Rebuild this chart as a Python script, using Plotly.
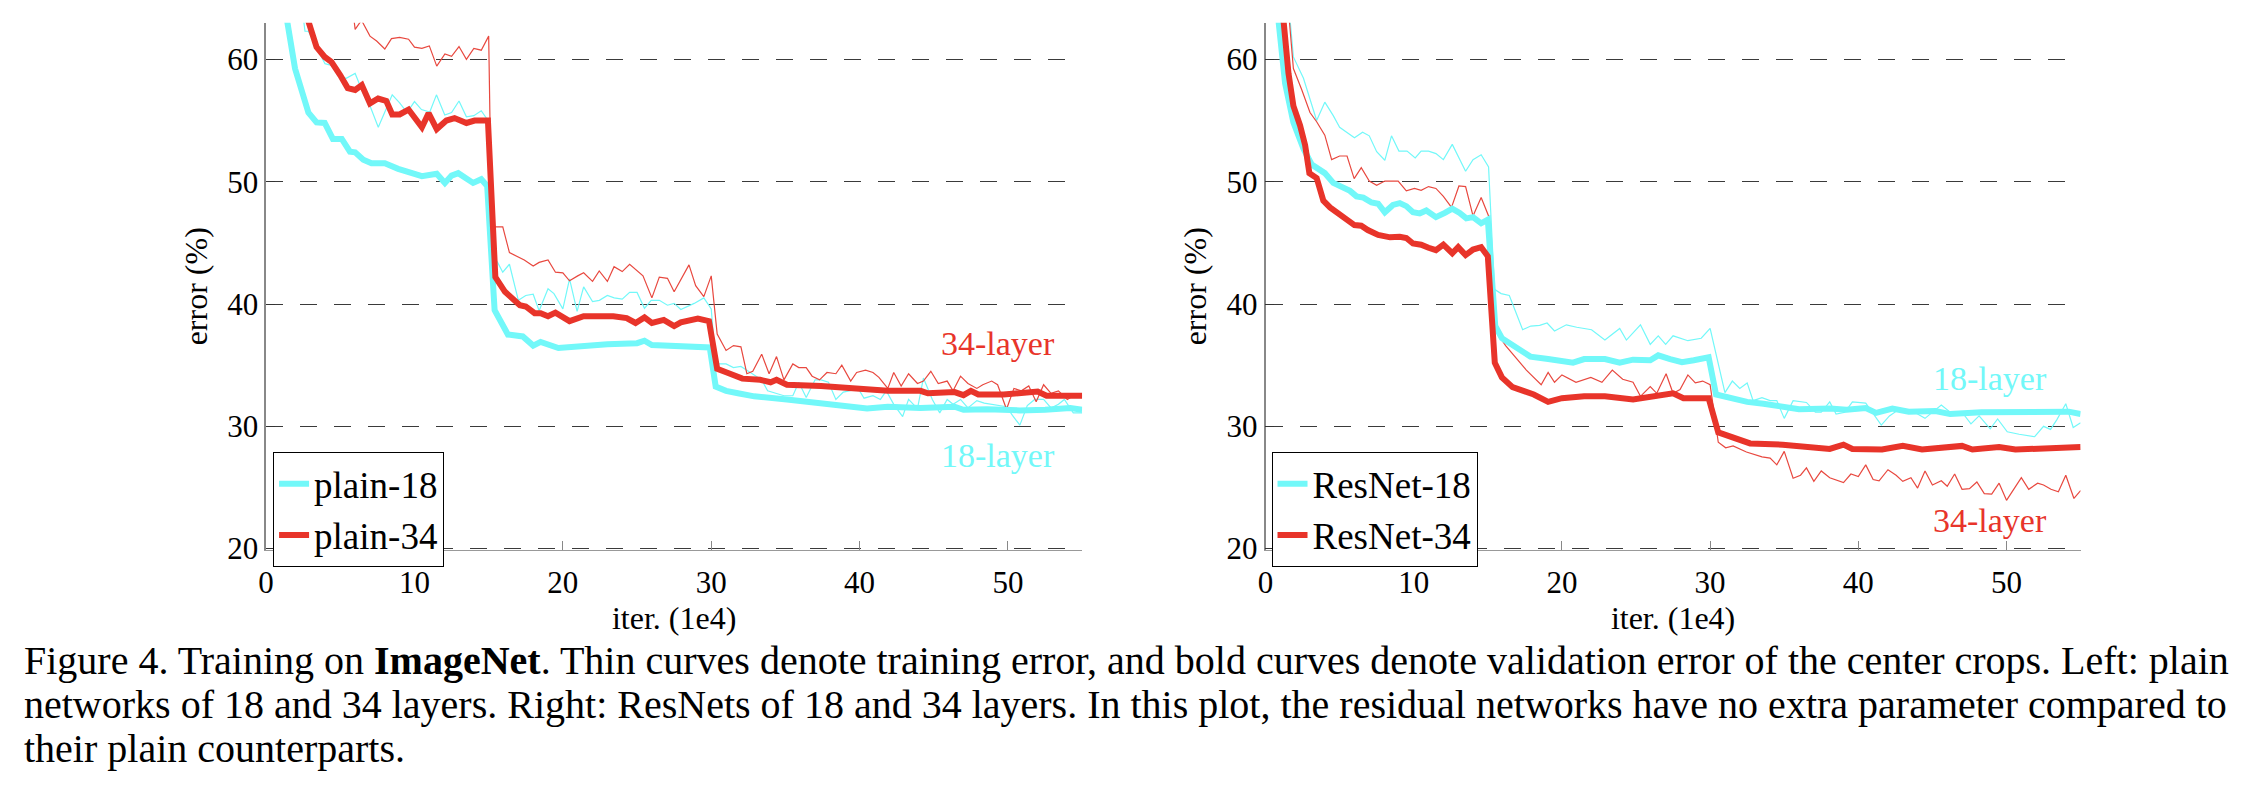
import plotly.graph_objects as go

# (iter in 1e4, error %)
plain18_train = [(2.5, 63.5), (2.62, 62.3), (2.85, 62.3), (3.4, 61.0), (3.97, 59.65), (4.4, 59.5), (4.98, 58.6),
                 (5.4, 58.45), (6.0, 58.85), (6.55, 57.2), (7.0, 56.2), (7.56, 54.45), (8.0, 55.7), (8.5, 57.1),
                 (9.0, 56.45), (9.5, 55.65), (10.0, 56.55), (10.47, 55.9), (11.03, 55.7), (11.48, 57.1),
                 (12.04, 55.45), (12.5, 55.65), (13.0, 56.6), (13.5, 55.3), (14.0, 55.4), (14.5, 55.8),
                 (14.95, 55.0), (15.3, 43.9), (15.6, 43.4), (15.95, 42.6), (16.4, 43.25), (17.0, 40.3),
                 (17.5, 40.7), (18.0, 40.8), (18.4, 39.45), (19.0, 41.25), (19.4, 40.85), (20.0, 39.6),
                 (20.45, 42.05), (20.96, 39.4), (21.4, 41.4), (22.0, 40.2), (22.46, 40.3), (23.0, 40.7),
                 (23.46, 40.5), (24.0, 40.4), (24.5, 40.95), (25.0, 40.95), (25.5, 39.65), (25.95, 40.3),
                 (26.5, 40.3), (27.05, 39.9), (27.5, 40.05), (27.95, 39.55), (28.85, 40.05), (29.5, 40.5),
                 (30.0, 39.6), (30.3, 35.1), (31.0, 35.1), (31.5, 34.8), (32.0, 34.9), (32.4, 34.6), (32.8, 34.3),
                 (33.4, 33.8), (33.8, 32.9), (34.4, 32.7), (34.9, 32.5), (35.5, 32.5), (35.9, 33.6), (36.4, 32.35),
                 (37.0, 33.8), (37.4, 33.8), (37.9, 33.6), (38.4, 32.2), (38.9, 32.8), (39.3, 32.9), (39.9, 33.1),
                 (40.3, 32.3), (40.9, 32.5), (41.4, 32.2), (41.8, 32.9), (42.3, 31.8), (42.9, 30.8), (43.3, 32.2),
                 (43.9, 31.45), (44.3, 33.95), (44.9, 32.2), (45.4, 31.1), (45.9, 32.2), (46.3, 31.8), (46.8, 32.2),
                 (47.3, 31.5), (47.9, 32.1), (48.4, 31.9), (48.9, 31.8), (49.4, 31.7), (49.9, 31.6), (50.3, 30.9),
                 (50.8, 30.1), (51.3, 31.7), (51.8, 32.2), (52.4, 32.2), (52.9, 31.5), (53.4, 31.8), (53.8, 32.2),
                 (54.4, 31.1), (55.0, 31.1)]

plain34_train = [(5.9, 63.5), (6.0, 62.45), (6.43, 63.2), (7.0, 61.9), (7.45, 61.5), (8.0, 60.85), (8.45, 61.7),
                 (9.0, 61.8), (9.6, 61.65), (10.0, 61.0), (10.5, 60.9), (11.0, 61.1), (11.5, 59.45), (12.05, 60.45),
                 (12.5, 60.25), (13.0, 61.05), (13.5, 60.0), (14.0, 60.9), (14.5, 60.75), (15.0, 61.9),
                 (15.2, 46.3), (15.95, 46.3), (16.4, 44.2), (17.4, 43.6), (18.0, 43.1), (18.4, 43.4), (19.0, 43.6),
                 (19.5, 42.6), (20.0, 42.55), (20.45, 41.9), (21.0, 42.3), (21.4, 42.55), (22.0, 41.85),
                 (22.45, 42.7), (23.0, 41.85), (23.45, 43.05), (24.0, 42.65), (24.5, 43.25), (25.4, 42.3),
                 (26.0, 40.5), (26.5, 42.2), (27.05, 42.1), (27.5, 41.0), (28.5, 43.2), (28.95, 41.5), (29.5, 40.6),
                 (30.0, 42.3), (30.4, 37.55), (31.0, 36.2), (31.5, 36.6), (32.0, 36.5), (32.4, 34.3), (32.8, 34.5),
                 (33.4, 35.9), (33.9, 34.3), (34.4, 35.7), (34.9, 33.8), (35.5, 35.1), (35.9, 34.8), (36.4, 34.8),
                 (36.8, 34.1), (37.3, 33.8), (37.8, 34.4), (38.4, 34.3), (38.8, 35.0), (39.4, 33.7), (39.8, 34.4),
                 (40.4, 34.6), (40.9, 34.4), (41.3, 34.0), (41.9, 33.1), (42.3, 34.4), (42.8, 33.3), (43.3, 34.3),
                 (43.9, 33.5), (44.3, 33.7), (44.8, 34.5), (45.3, 33.5), (45.9, 33.7), (46.3, 32.9), (46.8, 34.1),
                 (47.3, 33.5), (47.9, 33.1), (48.3, 33.4), (48.9, 33.7), (49.3, 33.4), (49.9, 31.4), (50.4, 33.1),
                 (50.9, 32.9), (51.4, 33.3), (51.9, 32.0), (52.4, 33.4), (52.9, 32.7), (53.4, 32.9), (54.0, 32.2),
                 (54.4, 32.5), (55.0, 32.5)]

plain18_val = [(1.3, 64.0), (1.95, 59.25), (2.85, 55.65), (3.4, 54.85), (3.95, 54.8), (4.5, 53.5), (5.1, 53.5),
               (5.65, 52.45), (6.0, 52.4), (6.55, 51.8), (7.1, 51.5), (8.0, 51.5), (8.9, 51.05), (9.8, 50.65),
               (10.5, 50.45), (11.5, 50.65), (12.05, 49.9), (12.5, 50.5), (12.95, 50.7), (13.95, 49.9),
               (14.5, 50.2), (14.9, 49.65), (15.4, 39.5), (16.3, 37.5), (17.3, 37.35), (18.0, 36.6), (18.5, 36.9),
               (19.7, 36.4), (21.6, 36.6), (23.0, 36.7), (25.0, 36.8), (25.5, 37.0), (26.0, 36.65), (28.0, 36.6),
               (29.0, 36.55), (29.9, 36.45), (30.3, 33.25), (31.0, 32.9), (31.8, 32.7), (32.9, 32.45),
               (35.1, 32.2), (37.4, 31.9), (40.5, 31.45), (41.9, 31.6), (44.1, 31.5), (46.4, 31.6), (47.0, 31.35),
               (48.6, 31.4), (50.8, 31.3), (52.5, 31.35), (54.2, 31.5), (55.0, 31.35)]

plain34_val = [(2.8, 63.3), (3.4, 61.0), (3.95, 60.2), (4.4, 59.8), (5.0, 58.7), (5.5, 57.65), (6.0, 57.5),
               (6.45, 57.9), (7.0, 56.4), (7.55, 56.8), (8.1, 56.6), (8.5, 55.5), (9.0, 55.5), (9.6, 55.9),
               (10.5, 54.45), (10.95, 55.6), (11.5, 54.3), (12.15, 55.0), (12.7, 55.2), (13.5, 54.8),
               (14.05, 55.0), (14.95, 55.0), (15.45, 42.2), (16.1, 41.0), (17.1, 39.9), (17.5, 39.8),
               (18.1, 39.25), (18.5, 39.25), (19.0, 39.0), (19.5, 39.3), (20.45, 38.6), (21.4, 39.0),
               (22.8, 39.0), (23.4, 39.0), (24.3, 38.85), (24.9, 38.45), (25.5, 38.9), (26.0, 38.45),
               (26.8, 38.7), (27.5, 38.2), (27.95, 38.5), (29.1, 38.8), (29.85, 38.6), (30.4, 34.7),
               (31.05, 34.4), (31.6, 34.2), (32.1, 33.9), (33.3, 33.8), (34.0, 33.6), (34.4, 33.8), (35.1, 33.4),
               (37.4, 33.3), (39.2, 33.1), (41.9, 32.9), (44.1, 32.9), (44.6, 32.7), (46.4, 32.8), (47.0, 32.55),
               (47.5, 32.9), (48.0, 32.6), (49.7, 32.6), (52.0, 32.85), (52.6, 32.5), (55.0, 32.5)]

resnet18_train = [(1.6, 64.0), (1.88, 60.2), (2.56, 58.45), (3.0, 56.7), (3.45, 55.0), (4.0, 56.5), (4.57, 55.4),
                  (5.0, 54.45), (5.5, 54.05), (6.0, 53.6), (6.55, 54.05), (7.0, 53.75), (7.5, 52.45), (8.05, 51.75),
                  (8.5, 53.75), (9.0, 52.5), (9.55, 52.5), (10.1, 51.95), (10.5, 52.5), (11.0, 52.5), (11.5, 52.3),
                  (12.0, 51.8), (12.6, 53.05), (13.0, 52.05), (13.5, 50.85), (14.0, 51.8), (14.55, 52.2),
                  (15.05, 51.2), (15.45, 41.2), (15.9, 40.85), (16.45, 40.7), (17.35, 37.9), (17.9, 38.2),
                  (18.5, 38.25), (19.0, 38.45), (19.5, 37.8), (20.3, 38.3), (21.0, 38.1), (22.0, 37.9),
                  (22.9, 37.05), (23.9, 38.0), (24.35, 37.05), (25.3, 38.3), (25.96, 36.7), (26.5, 37.4),
                  (27.0, 36.7), (27.5, 37.4), (28.5, 37.0), (29.4, 37.2), (30.0, 38.0), (30.67, 34.6), (31.0, 32.75),
                  (31.5, 33.7), (32.0, 33.1), (32.5, 33.55), (32.9, 32.1), (33.5, 32.35), (34.05, 32.1), (34.5, 32.1),
                  (35.0, 30.65), (35.6, 32.1), (36.5, 31.95), (37.1, 31.15), (37.5, 31.15), (38.07, 32.0),
                  (38.5, 31.0), (39.1, 31.15), (39.6, 32.0), (40.5, 31.9), (41.55, 30.1), (42.1, 30.85),
                  (42.7, 31.35), (43.5, 31.35), (44.5, 30.65), (45.05, 31.2), (45.6, 31.75), (46.2, 31.15),
                  (47.0, 31.15), (47.6, 30.2), (48.15, 30.85), (48.9, 29.8), (49.4, 30.6), (50.05, 29.55),
                  (50.85, 29.35), (51.9, 29.15), (52.5, 30.0), (52.97, 29.75), (53.4, 30.55), (54.0, 31.85),
                  (54.5, 29.9), (55.0, 30.3)]

resnet34_train = [(1.55, 64.0), (1.88, 59.25), (2.45, 57.5), (3.0, 55.65), (3.45, 54.9), (4.0, 53.8), (4.46, 51.8),
                  (5.0, 52.1), (5.5, 52.1), (5.98, 50.25), (6.46, 51.15), (7.0, 50.05), (7.5, 49.7), (8.05, 50.05),
                  (8.5, 50.05), (8.95, 50.05), (9.5, 49.25), (10.05, 49.45), (10.5, 49.3), (11.0, 49.6),
                  (11.5, 49.45), (12.0, 48.8), (12.55, 47.9), (13.05, 49.65), (13.5, 49.6), (14.0, 47.2),
                  (14.55, 48.7), (15.05, 47.2), (15.2, 38.6), (15.7, 37.5), (16.2, 36.6), (17.15, 35.2),
                  (17.6, 34.6), (18.6, 33.4), (19.07, 34.4), (19.5, 33.6), (20.0, 34.2), (20.95, 33.6),
                  (21.95, 34.0), (22.7, 33.6), (23.4, 34.6), (24.1, 33.85), (24.8, 33.6), (25.3, 32.45),
                  (25.96, 33.25), (26.4, 32.7), (27.03, 34.3), (27.5, 32.7), (27.97, 33.0), (28.5, 34.2),
                  (29.0, 33.55), (29.5, 33.7), (30.0, 33.4), (30.55, 28.7), (31.05, 28.25), (31.55, 28.4),
                  (32.45, 27.9), (33.5, 27.5), (34.05, 27.4), (34.5, 26.85), (35.0, 27.95), (35.6, 25.75),
                  (36.1, 26.0), (36.5, 26.6), (37.0, 25.5), (37.5, 26.35), (38.07, 25.8), (39.0, 25.4),
                  (39.5, 26.1), (40.0, 25.9), (40.5, 26.85), (41.0, 25.65), (41.4, 25.55), (42.0, 26.45),
                  (42.55, 26.0), (43.0, 25.5), (43.55, 25.8), (44.0, 24.95), (44.5, 26.35), (45.0, 25.2),
                  (45.6, 25.55), (46.0, 25.1), (46.5, 26.1), (47.0, 24.85), (47.5, 24.9), (48.0, 25.45),
                  (48.5, 24.5), (49.0, 24.45), (49.5, 25.35), (50.0, 23.95), (50.5, 24.9), (51.0, 25.8),
                  (51.5, 24.85), (52.1, 25.35), (52.5, 25.2), (53.0, 24.85), (53.5, 24.65), (54.0, 26.0),
                  (54.55, 24.1), (55.0, 24.75)]

resnet18_val = [(0.8, 64.0), (1.32, 58.05), (1.88, 54.85), (2.56, 52.7), (3.12, 51.4), (3.68, 51.0), (4.0, 50.7),
                (4.57, 49.9), (5.25, 49.5), (5.7, 49.25), (6.14, 48.8), (6.6, 48.7), (7.15, 48.3), (7.6, 48.2),
                (8.05, 47.5), (8.6, 48.1), (9.06, 48.25), (9.5, 48.0), (9.95, 47.5), (10.4, 47.4), (10.85, 47.65),
                (11.5, 47.1), (12.1, 47.45), (12.6, 47.8), (13.1, 47.45), (13.55, 47.0), (14.0, 47.1),
                (14.55, 46.6), (15.0, 46.9), (15.5, 38.2), (15.95, 37.2), (16.67, 36.6), (17.87, 35.7),
                (19.07, 35.5), (20.0, 35.4), (20.75, 35.2), (21.5, 35.5), (22.9, 35.5), (23.9, 35.2),
                (24.8, 35.45), (25.96, 35.4), (26.5, 35.8), (27.3, 35.5), (28.1, 35.25), (28.9, 35.4),
                (29.9, 35.65), (30.4, 32.6), (31.3, 32.3), (32.5, 32.0), (33.6, 31.85), (34.9, 31.6), (36.0, 31.4),
                (38.1, 31.45), (39.2, 31.35), (40.5, 31.5), (41.2, 31.1), (42.3, 31.45), (43.4, 31.2),
                (45.2, 31.25), (46.2, 31.0), (48.3, 31.15), (50.6, 31.15), (52.8, 31.15), (54.2, 31.2),
                (55.0, 31.0)]

resnet34_val = [(1.15, 64.0), (1.55, 58.85), (1.88, 56.2), (2.33, 54.6), (2.67, 53.0), (2.96, 50.7), (3.45, 50.3),
                (3.9, 48.45), (4.35, 47.9), (5.13, 47.25), (6.0, 46.45), (6.46, 46.4), (6.9, 46.05), (7.6, 45.65),
                (8.4, 45.45), (9.06, 45.5), (9.5, 45.4), (9.95, 44.95), (10.5, 44.85), (11.0, 44.6), (11.5, 44.4),
                (12.0, 44.85), (12.6, 44.15), (13.0, 44.65), (13.5, 44.0), (14.0, 44.45), (14.55, 44.65),
                (15.0, 43.9), (15.47, 35.2), (15.95, 34.0), (16.67, 33.2), (17.4, 32.9), (18.1, 32.6),
                (19.07, 32.0), (20.0, 32.3), (21.5, 32.45), (22.9, 32.45), (24.8, 32.2), (25.96, 32.4),
                (27.5, 32.7), (28.2, 32.3), (29.9, 32.3), (30.55, 29.5), (31.6, 29.0), (32.7, 28.6), (34.9, 28.5),
                (36.7, 28.3), (38.07, 28.15), (39.0, 28.5), (39.6, 28.15), (41.6, 28.1), (43.0, 28.4),
                (44.3, 28.1), (47.0, 28.4), (47.7, 28.1), (49.5, 28.3), (50.6, 28.1), (52.8, 28.15), (55.0, 28.3)]

legend_left = ["plain-18", "plain-34"]
legend_right = ["ResNet-18", "ResNet-34"]
x_ticks = [0, 10, 20, 30, 40, 50]
y_ticks = [20, 30, 40, 50, 60]
caption_lines = [
    "Figure 4. Training on <b>ImageNet</b>. Thin curves denote training error, and bold curves denote "
    "validation error of the center crops. Left: plain",
    "networks of 18 and 34 layers. Right: ResNets of 18 and 34 layers. In this plot, the residual networks "
    "have no extra parameter compared to",
    "their plain counterparts.",
]

CYAN = "#72F8F9"
RED = "#E8342A"
RED_THIN = "#E8483F"
FONT = "Liberation Serif"
W, H = 2244, 792


def xs(d):
    return [p[0] for p in d]


def ys(d):
    return [p[1] for p in d]


fig = go.Figure()

# left panel: plain nets (thin = train, bold = val)
fig.add_trace(go.Scatter(x=xs(plain18_train), y=ys(plain18_train), mode="lines",
                         line=dict(color=CYAN, width=1.2), showlegend=False, xaxis="x", yaxis="y"))
fig.add_trace(go.Scatter(x=xs(plain34_train), y=ys(plain34_train), mode="lines",
                         line=dict(color=RED_THIN, width=1.2), showlegend=False, xaxis="x", yaxis="y"))
fig.add_trace(go.Scatter(x=xs(plain18_val), y=ys(plain18_val), mode="lines", name=legend_left[0],
                         line=dict(color=CYAN, width=6), legend="legend", xaxis="x", yaxis="y"))
fig.add_trace(go.Scatter(x=xs(plain34_val), y=ys(plain34_val), mode="lines", name=legend_left[1],
                         line=dict(color=RED, width=6), legend="legend", xaxis="x", yaxis="y"))

# right panel: resnets
fig.add_trace(go.Scatter(x=xs(resnet18_train), y=ys(resnet18_train), mode="lines",
                         line=dict(color=CYAN, width=1.2), showlegend=False, xaxis="x2", yaxis="y2"))
fig.add_trace(go.Scatter(x=xs(resnet34_train), y=ys(resnet34_train), mode="lines",
                         line=dict(color=RED_THIN, width=1.2), showlegend=False, xaxis="x2", yaxis="y2"))
fig.add_trace(go.Scatter(x=xs(resnet18_val), y=ys(resnet18_val), mode="lines", name=legend_right[0],
                         line=dict(color=CYAN, width=6), legend="legend2", xaxis="x2", yaxis="y2"))
fig.add_trace(go.Scatter(x=xs(resnet34_val), y=ys(resnet34_val), mode="lines", name=legend_right[1],
                         line=dict(color=RED, width=6), legend="legend2", xaxis="x2", yaxis="y2"))

y_dom = [1 - 553.75 / H, 1 - 15 / H]

xax = dict(range=[0, 55], tickvals=x_ticks, ticks="inside", ticklen=9, tickcolor="#888",
           showgrid=False, zeroline=False, showline=True, linecolor="#999", linewidth=1,
           ticklabelstandoff=5,
           tickfont=dict(family=FONT, size=31, color="black"),
           title=dict(text="iter. (1e4)", font=dict(family=FONT, size=32, color="black"), standoff=4))
yax = dict(range=[19.9, 63], tickvals=y_ticks, ticks="inside", ticklen=9, tickcolor="#333",
           showgrid=True, gridcolor="#3a3a3a", gridwidth=1.4, griddash="17px,17px",
           zeroline=False, showline=True, linecolor="#888", linewidth=1.5,
           tickfont=dict(family=FONT, size=31, color="black"),
           title=dict(text="error (%)", font=dict(family=FONT, size=32, color="black"), standoff=10),
           domain=y_dom)

leg = dict(y=1 - 454 / H, xanchor="left", yanchor="top", bordercolor="black", borderwidth=1,
           bgcolor="white", font=dict(family=FONT, size=37, color="black"), tracegroupgap=0)

fig.update_layout(
    width=W, height=H,
    margin=dict(l=0, r=0, t=0, b=0),
    paper_bgcolor="white", plot_bgcolor="white",
    xaxis=dict(xax, domain=[251 / W, 1070 / W], anchor="y"),
    yaxis=dict(yax, anchor="x"),
    xaxis2=dict(xax, domain=[1254 / W, 2072 / W], anchor="y2"),
    yaxis2=dict(yax, anchor="x2"),
    legend=dict(leg, x=258 / W),
    legend2=dict(leg, x=1260 / W),
)

# curve labels
lab = dict(family=FONT, size=34)
fig.add_annotation(x=53.3, y=36.75, xref="x", yref="y", text="34-layer", showarrow=False,
                   xanchor="right", font=dict(lab, color=RED))
fig.add_annotation(x=53.3, y=27.6, xref="x", yref="y", text="18-layer", showarrow=False,
                   xanchor="right", font=dict(lab, color=CYAN))
fig.add_annotation(x=52.9, y=33.9, xref="x2", yref="y2", text="18-layer", showarrow=False,
                   xanchor="right", font=dict(lab, color=CYAN))
fig.add_annotation(x=52.9, y=22.3, xref="x2", yref="y2", text="34-layer", showarrow=False,
                   xanchor="right", font=dict(lab, color=RED))

# caption, one annotation per line for tighter line spacing
for i, line in enumerate(caption_lines):
    fig.add_annotation(x=6 / W, y=1 - (667 + 45 * i) / H, xref="paper", yref="paper", text=line,
                       showarrow=False, xanchor="left", yanchor="middle", align="left",
                       font=dict(family=FONT, size=40, color="black"))

fig.write_html("out.html")
